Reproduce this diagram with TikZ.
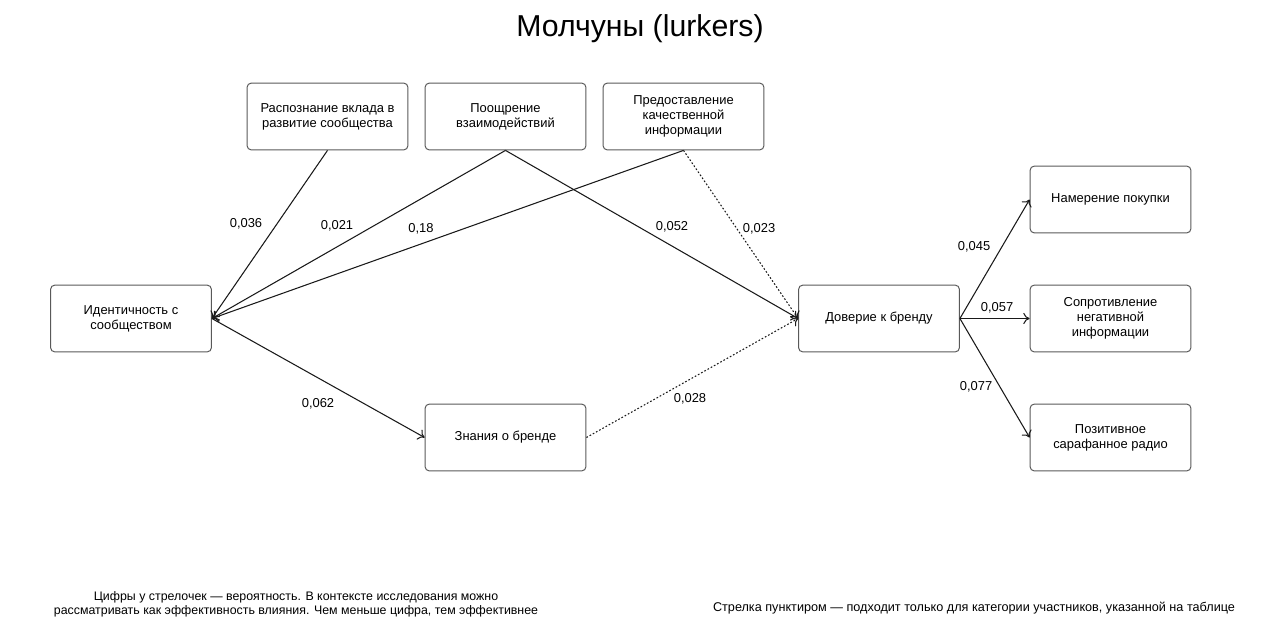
\documentclass[tikz,border=0pt]{standalone}
\usepackage{fontspec}
\setmainfont{Liberation Sans}
\usepackage{tikz}
\usetikzlibrary{arrows,arrows.meta,calc,positioning}

\begin{document}
\begin{tikzpicture}[x=0.025cm, y=-0.025cm]
	\tikzstyle{box} = [rectangle, draw = black!65, rounded corners = 3pt, line width = 0.7pt, minimum width = 4.02cm, minimum height = 1.67cm, align = center, font = \fontsize{9.2}{10.6}\selectfont]
	\tikzstyle{weight} = [font = \fontsize{9.2}{11}\selectfont]
	\tikzstyle{link} = [-{To[length=4.5pt, width=8pt]}, line width = 0.75pt, black!90]
	\tikzstyle{maybe} = [-{To[length=4.5pt, width=8pt]}, line width = 0.75pt, black!90, dash pattern = on 1.2pt off 1.4pt]
\useasboundingbox (0, 0) rectangle (1280, 638);

\node (t) at (640, 29) {\fontsize{21.5}{24}\selectfont Молчуны (lurkers)};

\node[box] (0) at (327.5, 116.5) {Распознание вклада в\\развитие сообщества};
\node[box] (1) at (505.5, 116.5) {Поощрение\\взаимодействий};
\node[box] (2) at (683.5, 116.5) {Предоставление\\качественной\\информации};
\node[box] (3) at (131, 318.5) {Идентичность с\\сообществом};
\node[box] (4) at (505.5, 437.5) {Знания о бренде};
\node[box] (5) at (879, 318.5) {Доверие к бренду};
\node[box] (6) at (1110.5, 199.5) {Намерение покупки};
\node[box] (7) at (1110.5, 318.5) {Сопротивление\\негативной\\информации};
\node[box] (8) at (1110.5, 437.5) {Позитивное\\сарафанное радио};

	\path[draw, link] (0.south) -- (3.east);
	\path[draw, link] (1.south) -- (3.east);
	\path[draw, link] (2.south) -- (3.east);
	\path[draw, link] (1.south) -- (5.west);
	\path[draw, maybe] (2.south) -- (5.west);
	\path[draw, link] (3.east) -- (4.west);
	\path[draw, maybe] (4.east) -- (5.west);
	\path[draw, link] (5.east) -- (6.west);
	\path[draw, link] (5.east) -- (7.west);
	\path[draw, link] (5.east) -- (8.west);

\node[weight] (w0) at (246, 224) {0,036};
\node[weight] (w1) at (337, 226) {0,021};
\node[weight] (w2) at (421, 229) {0,18};
\node[weight] (w3) at (672, 227) {0,052};
\node[weight] (w4) at (759, 229) {0,023};
\node[weight] (w5) at (318, 404) {0,062};
\node[weight] (w6) at (690, 399) {0,028};
\node[weight] (w7) at (974, 247) {0,045};
\node[weight] (w8) at (997, 308) {0,057};
\node[weight] (w9) at (976, 387) {0,077};

\node[align = center, font = \fontsize{8.8}{10}\selectfont] (n0) at (296, 604) {Цифры у стрелочек — вероятность. В контексте исследования можно\\рассматривать как эффективность влияния. Чем меньше цифра, тем эффективнее};
\node[font = \fontsize{9}{10}\selectfont] (n1) at (974, 608) {Стрелка пунктиром — подходит только для категории участников, указанной на таблице};
	\end{tikzpicture}
\end{document}
